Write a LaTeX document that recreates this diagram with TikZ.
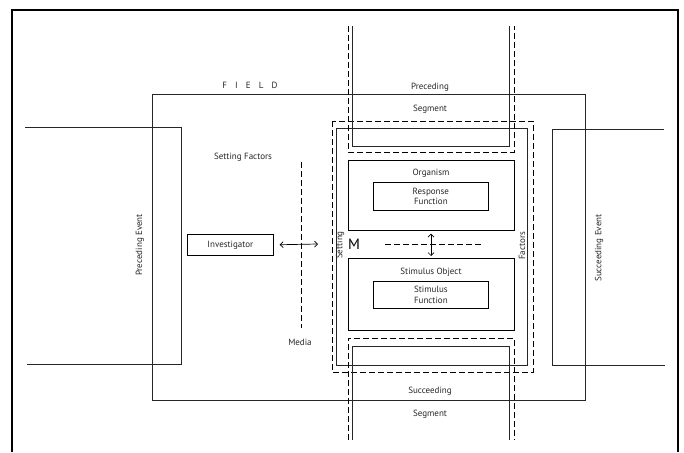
\documentclass[tikz,border=0pt]{standalone}
\usepackage{fontspec}
\setmainfont{PT Sans}
\usetikzlibrary{arrows.meta}
\begin{document}
\begin{tikzpicture}[x=1pt,y=-1pt,
  thin line/.style={line width=0.7pt, draw=black!85},
  frameline/.style={line width=1.6pt},
  dashline/.style={line width=0.8pt, dash pattern=on 6pt off 3pt},
  boxnode/.style={draw, line width=0.7pt, inner sep=0pt, anchor=north west},
  lbl/.style={font=\fontsize{9}{10.5}\selectfont, inner sep=0pt, text=black!85},
  dblarrow/.style={line width=0.7pt, {Straight Barb[length=3pt,width=6pt]}-{Straight Barb[length=3pt,width=6pt]}}
]
\useasboundingbox (0,0) rectangle (684,452);
% outer frame (open at the bottom)
\draw[frameline] (12,452) -- (12,10) -- (678,10) -- (678,452);
% FIELD
\draw[thin line] (152,94) rectangle (585,400);
\node[lbl] (field) at (250,85) {F\hspace{0.9em}I\hspace{0.9em}E\hspace{0.9em}L\hspace{0.9em}D};
% preceding / succeeding events
\draw[thin line] (25,127) -- (181,127) -- (181,364) -- (27,364);
\draw[thin line] (664,129) -- (552,129) -- (552,365) -- (665,365);
\node[lbl, rotate=90] (pe) at (140,245) {Preceding Event};
\node[lbl, rotate=90] (se) at (599,248) {Succeeding Event};
% setting factors frames
\draw[dashline] (332,121) rectangle (533,372);
\draw[thin line] (336,128) rectangle (527,365);
% preceding segment
\draw[thin line] (352,26) -- (352,146) -- (509,146) -- (509,26);
\draw[dashline] (348,26) -- (348,152) -- (514,152) -- (514,26);
% succeeding segment
\draw[thin line] (352,440) -- (352,346) -- (509,346) -- (509,440);
\draw[dashline] (348,440) -- (348,338) -- (514,338) -- (514,440);
\node[lbl] (prec) at (430,87) {Preceding};
\node[lbl] (seg1) at (430,109) {Segment};
\node[lbl] (succ) at (430,391) {Succeeding};
\node[lbl] (seg2) at (430,414) {Segment};
% organism & stimulus object
\node[boxnode, minimum width=166pt, minimum height=70pt] (org) at (348,160) {};
\node[lbl] (orgl) at (431,173) {Organism};
\node[boxnode, minimum width=115pt, minimum height=28pt, align=center] (resp) at (373,182) {};
\node[lbl, align=center] at (resp.center) {Response\\Function};
\node[boxnode, minimum width=166pt, minimum height=72pt] (stim) at (348,258) {};
\node[lbl] (stiml) at (431,272) {Stimulus Object};
\node[boxnode, minimum width=115pt, minimum height=27pt] (sfun) at (373,281) {};
\node[lbl, align=center] at (sfun.center) {Stimulus\\Function};
% M and dashed line
\node[inner sep=0pt, font=\fontsize{15}{15}\selectfont] (m) at (354,244) {M};
\coordinate (dl1) at (385,244);
\coordinate (dl2) at (483,244);
\draw[dashline] (dl1) -- (dl2);
\draw[dblarrow, shorten <=3pt, shorten >=2pt] (org.south -| 431,0) -- (stim.north -| 431,0);
\node[lbl, rotate=90] (setting) at (340,245) {Setting};
\node[lbl, rotate=90] (factors) at (522,246) {Factors};
% left side
\node[lbl] (sf) at (243,157) {Setting Factors};
\node[boxnode, minimum width=86pt, minimum height=21pt] (inv) at (187,234) {};
\node[lbl] at (inv.center) {Investigator};
\coordinate (arrend) at (318,244);
\draw[dblarrow, shorten <=6pt] (inv.east) -- (arrend);
\coordinate (media1) at (301,162);
\coordinate (media2) at (301,328);
\draw[dashline, line width=0.6pt] (media1) -- (media2);
\node[lbl] (media) at (300,342) {Media};
\end{tikzpicture}
\end{document}
